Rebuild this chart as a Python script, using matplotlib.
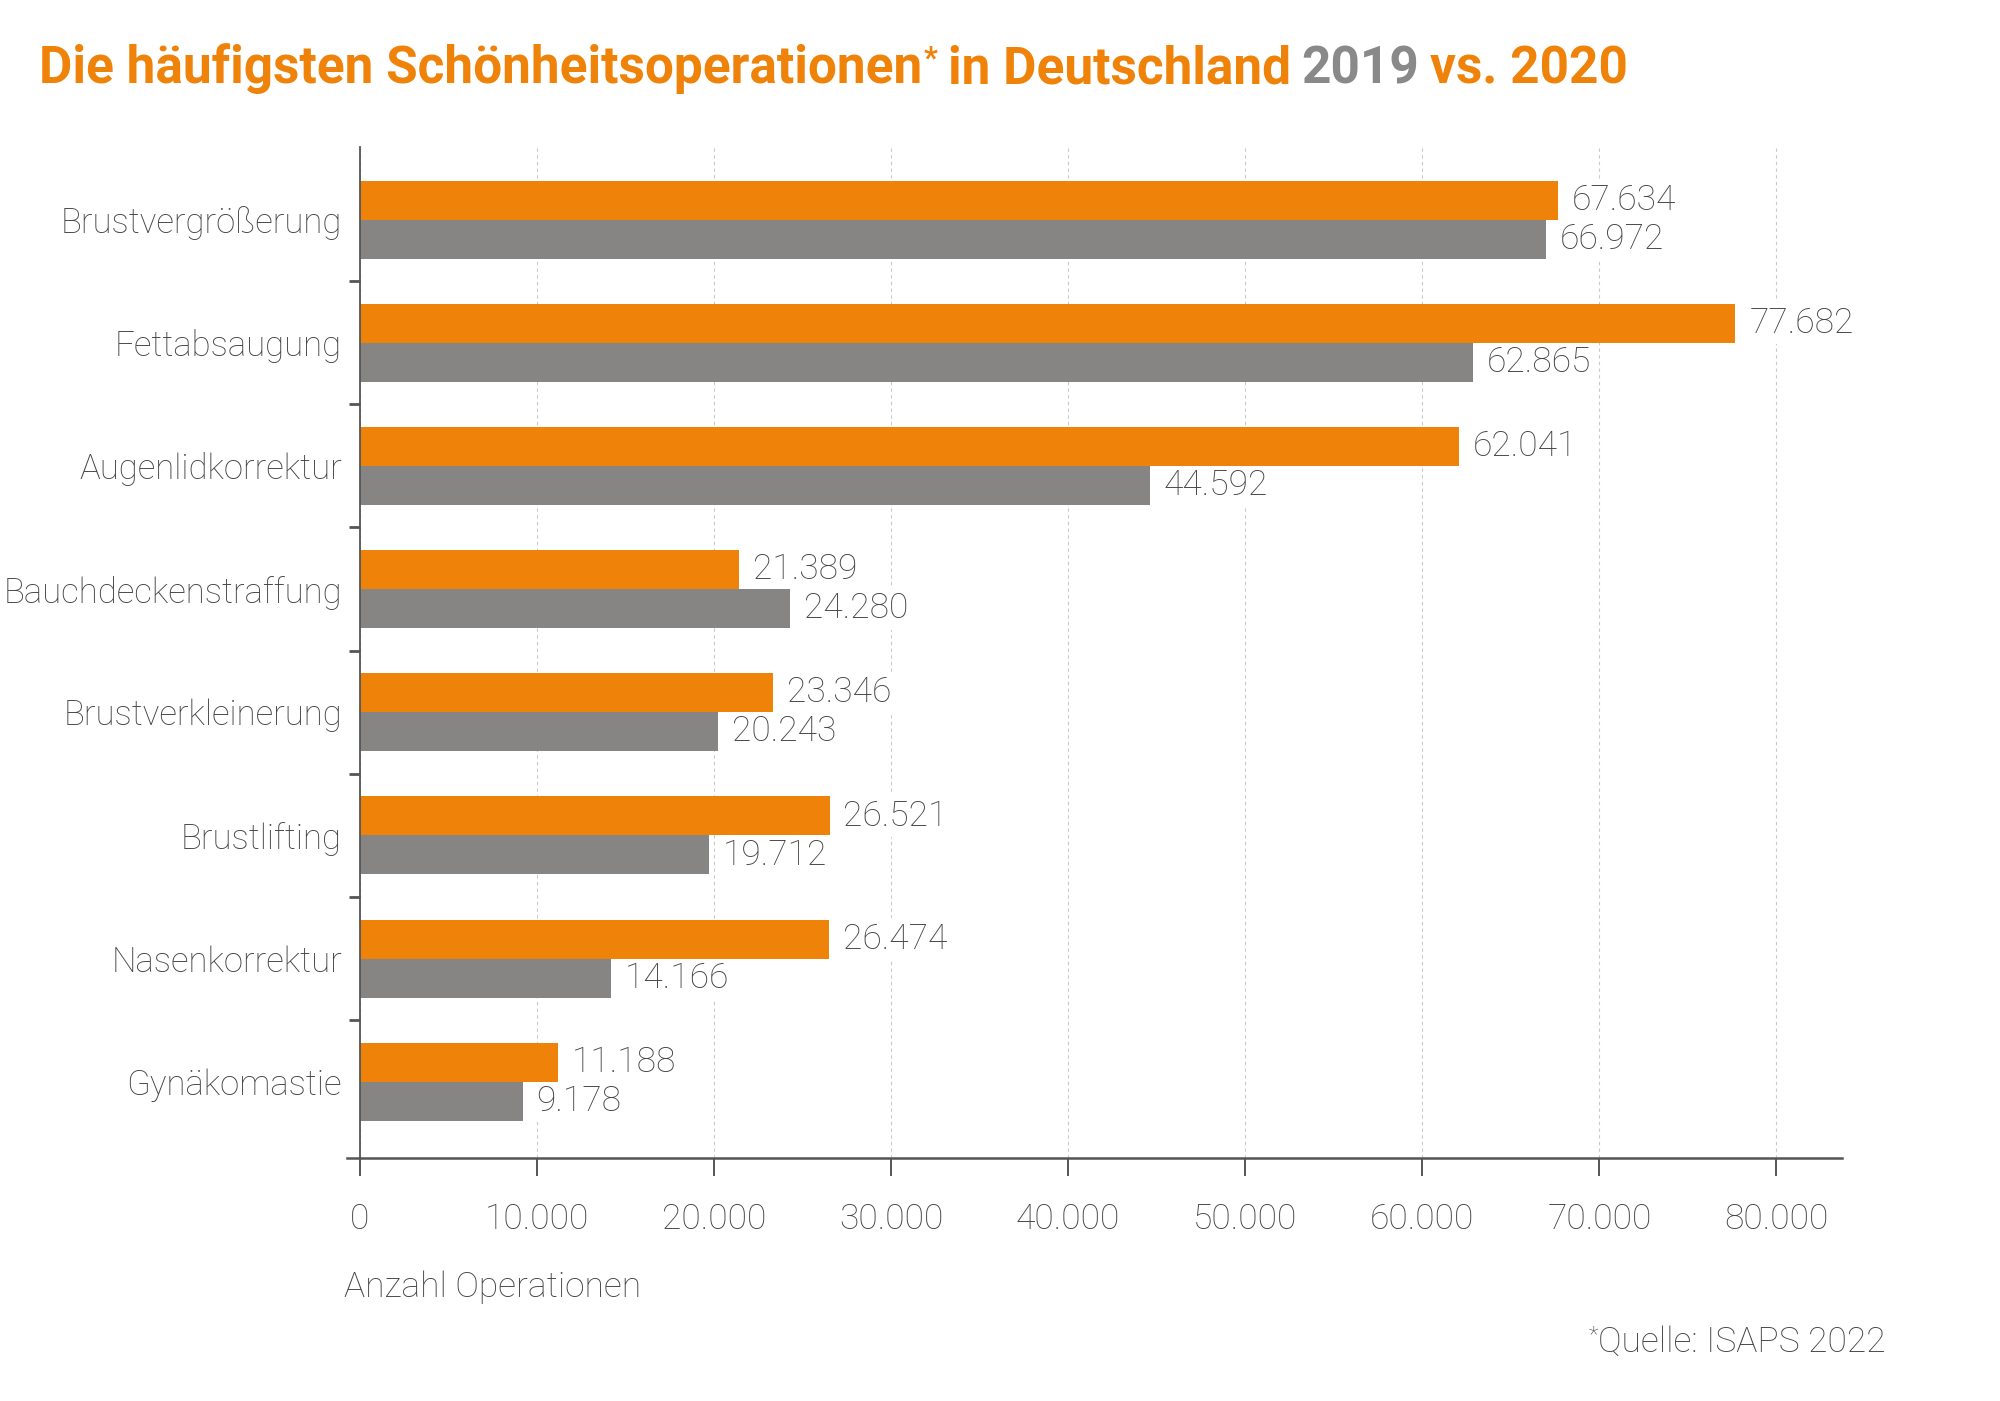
import numpy as np
import matplotlib
matplotlib.use("Agg")
import matplotlib.pyplot as plt
from matplotlib.ticker import FixedLocator, FuncFormatter

plt.rcParams['font.family'] = ['Roboto', 'DejaVu Sans']

# data (2020 orange, 2019 gray)
categories = ["Brustvergrößerung", "Fettabsaugung", "Augenlidkorrektur",
              "Bauchdeckenstraffung", "Brustverkleinerung", "Brustlifting",
              "Nasenkorrektur", "Gynäkomastie"]
values_2020 = [67634, 77682, 62041, 21389, 23346, 26521, 26474, 11188]
values_2019 = [66972, 62865, 44592, 24280, 20243, 19712, 14166, 9178]
x_ticks = [0, 10000, 20000, 30000, 40000, 50000, 60000, 70000, 80000]

ORANGE = "#EF8208"
GRAY_BAR = "#868584"
GRAY_TITLE = "#898989"
TEXT = "#444444"
AXIS = "#555555"
FS = 25.5


def fmt(v):
    return f"{int(v):,}".replace(",", ".")


fig = plt.figure(figsize=(20, 14.01), dpi=100)
ax = fig.add_axes([0.1735, 0.1734, 0.921 - 0.1735, 0.8954 - 0.1734])

y = np.arange(len(categories))
h = 0.317
ax.barh(y - h / 2, values_2020, height=h, color=ORANGE, zorder=2)
ax.barh(y + h / 2, values_2019, height=h, color=GRAY_BAR, zorder=2)

ax.set_xlim(-734, 83700)
ax.set_ylim(len(categories) - 1 + 0.62, -0.593)

# value labels (white box hides grid, bars stay on top)
lab_kw = dict(textcoords="offset points", ha="left", va="center", fontsize=FS,
              fontweight="light", color=TEXT, zorder=1.5,
              bbox=dict(boxstyle="square,pad=0.12", fc="white", ec="none"))
for i in range(len(categories)):
    ax.annotate(fmt(values_2020[i]), xy=(values_2020[i], y[i] - h / 2),
                xytext=(10, 0), **lab_kw)
    ax.annotate(fmt(values_2019[i]), xy=(values_2019[i], y[i] + h / 2),
                xytext=(10, 0), **lab_kw)

# axes styling
for s in ["top", "right"]:
    ax.spines[s].set_visible(False)
ax.spines["left"].set_position(("data", 0))
ax.spines["left"].set_color(AXIS)
ax.spines["left"].set_linewidth(1.3)
ax.spines["bottom"].set_color(AXIS)
ax.spines["bottom"].set_linewidth(1.8)

ax.xaxis.set_major_locator(FixedLocator(x_ticks))
ax.xaxis.set_major_formatter(FuncFormatter(lambda v, p: fmt(v)))
ax.tick_params(axis="x", length=13, width=1.4, color=AXIS, pad=19,
               labelsize=FS, labelcolor=TEXT)
for lbl in ax.get_xticklabels():
    lbl.set_fontweight("light")

ax.set_yticks(y)
ax.set_yticklabels(categories, fontsize=25, fontweight="light", color=TEXT)
ax.tick_params(axis="y", which="major", length=0, pad=13)
ax.set_yticks(y[:-1] + 0.5, minor=True)
ax.tick_params(axis="y", which="minor", length=8, width=2, color=AXIS)

ax.grid(axis="x", color="#c9c9c9", linestyle=(0, (3, 3)), linewidth=0.8, zorder=0.5)
ax.set_axisbelow(True)

# title pieces
y_base = 1 - 83 / 1401
t1 = fig.text(0.0195, y_base, "Die häufigsten Schönheitsoperationen", color=ORANGE,
              fontsize=37, fontweight="bold", va="baseline", ha="left")
star = ax.annotate("*", xy=(1, 1), xycoords=t1, xytext=(1, 0), textcoords="offset points",
                   ha="left", va="top", color=ORANGE, fontsize=22, fontweight="bold")
t3 = ax.annotate("in Deutschland", xy=(1, y_base), xycoords=(star, "figure fraction"),
                 xytext=(7.5, 0), textcoords="offset points", ha="left", va="baseline",
                 color=ORANGE, fontsize=37, fontweight="bold")
t4 = ax.annotate("2019", xy=(1, y_base), xycoords=(t3, "figure fraction"),
                 xytext=(7.5, 0), textcoords="offset points", ha="left", va="baseline",
                 color=GRAY_TITLE, fontsize=37, fontweight="bold")
t5 = ax.annotate("vs. 2020", xy=(1, y_base), xycoords=(t4, "figure fraction"),
                 xytext=(7.5, 0), textcoords="offset points", ha="left", va="baseline",
                 color=ORANGE, fontsize=37, fontweight="bold")

# axis label and source
fig.text(0.172, 1 - 1297 / 1401, "Anzahl Operationen", fontsize=FS, fontweight="light",
         color=TEXT, ha="left", va="baseline")
src = fig.text(0.943, 1 - 1352 / 1401, "Quelle: ISAPS 2022", fontsize=FS,
               fontweight="light", color=TEXT, ha="right", va="baseline")
ax.annotate("*", xy=(0, 1), xycoords=src, ha="right", va="top", fontsize=16,
            fontweight="light", color=TEXT)

fig.savefig("out.png", dpi=100, facecolor="white")
